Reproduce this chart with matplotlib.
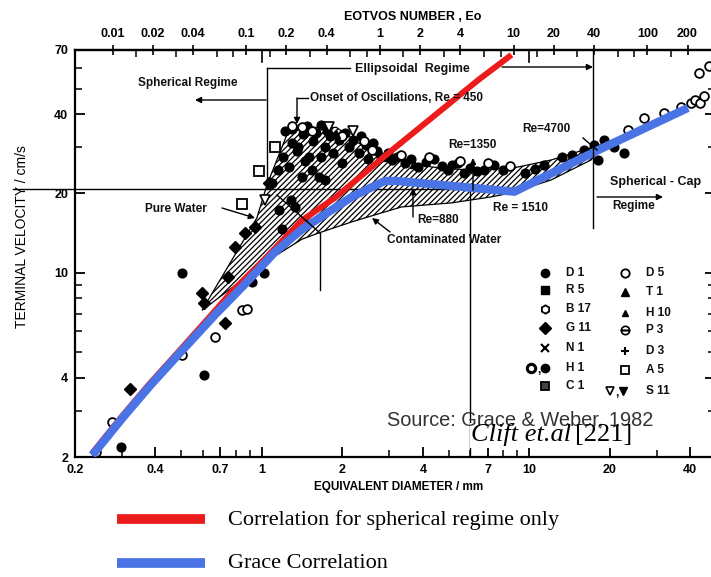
import numpy as np
import matplotlib
matplotlib.use("Agg")
import matplotlib.pyplot as plt
from matplotlib.lines import Line2D
from matplotlib.patches import FancyArrowPatch, Rectangle
from matplotlib.ticker import FixedLocator, FixedFormatter, NullFormatter

W, H = 711, 577
SANS = ["Liberation Sans", "DejaVu Sans"]
SERIF = ["Liberation Serif", "DejaVu Serif"]
plt.rcParams["font.family"] = SANS
plt.rcParams["hatch.linewidth"] = 0.9

# ---- axis ticks -------------------------------------------------------------
d_ticks = [0.2, 0.4, 0.7, 1, 2, 4, 7, 10, 20, 40]
d_tick_labels = ["0.2", "0.4", "0.7", "1", "2", "4", "7", "10", "20", "40"]
d_minor = [0.3, 0.5, 0.6, 0.8, 0.9, 3, 5, 6, 8, 9, 30]
v_ticks = [2, 4, 10, 20, 40, 70]
v_tick_labels = ["2", "4", "10", "20", "40", "70"]
v_minor = [3, 5, 6, 7, 8, 9, 30, 50, 60]
eo_ticks = [0.01, 0.02, 0.04, 0.1, 0.2, 0.4, 1, 2, 4, 10, 20, 40, 100, 200]
eo_tick_labels = ["0.01", "0.02", "0.04", "0.1", "0.2", "0.4", "1", "2", "4",
                  "10", "20", "40", "100", "200"]
eo_minor = [0.015, 0.03, 0.06, 0.08, 0.15, 0.3, 0.6, 0.8, 1.5, 3, 6, 8,
            15, 30, 60, 80, 150]
EO_PER_MM2 = 0.131          # Eo = g*drho*d^2/sigma for air bubbles in water, d in mm

# ---- band between pure and contaminated water ------------------------------
pure_d = [0.597, 0.958, 1.044, 1.24, 1.41, 1.9, 2.42, 3.25, 4.31, 5.72, 6.79, 9.1, 12.1, 17.0, 19.0]
pure_v = [7.2, 16.15, 21.5, 33.4, 35.6, 35.6, 30.0, 26.8, 25.2, 24.6, 24.6, 25.2, 26.8, 29.8, 30.8]
cont_d = [0.597, 1.062, 1.41, 1.632, 2.167, 2.64, 3.33, 5.12, 7.21, 8.57, 12.08, 17.03, 19.0]
cont_v = [7.2, 11.19, 13.4, 14.16, 15.59, 16.57, 17.77, 18.41, 19.4, 20.09, 22.5, 26.8, 30.8]

# ---- correlations -----------------------------------------------------------
spherical_d = [0.232, 0.30, 0.379, 0.474, 0.67, 0.773, 1.0, 1.41, 1.87, 2.98, 6.45, 8.58]
spherical_v = [2.07, 2.86, 3.78, 4.86, 7.2, 8.5, 11.0, 15.8, 19.2, 28.5, 53.9, 67.1]
grace_d = [0.232, 0.30, 0.379, 0.474, 0.67, 0.85, 1.12, 1.41, 2.17, 2.88, 3.2, 8.8, 18.1, 39.2]
grace_v = [2.03, 2.80, 3.70, 4.75, 6.95, 8.9, 12.0, 14.6, 19.4, 22.3, 22.3, 20.3, 29.2, 42.2]

# ---- experimental points ----------------------------------------------------
d1_d = [1.09, 1.15, 1.2, 1.22, 1.26, 1.3, 1.35, 1.37, 1.42, 1.45, 1.5, 1.55, 1.6, 1.63,
        1.67, 1.72, 1.8, 1.85, 1.94, 2.0, 2.11, 2.2, 2.3, 2.45, 2.5, 2.7, 2.8, 2.95,
        3.06, 3.2, 3.42, 3.6, 3.85, 4.1, 4.42, 4.7, 4.98, 5.12, 5.4, 5.72, 6.0, 6.4,
        6.8, 7.4, 8.0, 9.6, 10.5, 11.4, 13.2, 14.5, 16.0, 17.5, 18.1, 19.0, 20.8, 22.6,
        0.503, 0.608, 0.298, 1.017, 0.918, 1.19, 1.29, 1.33, 1.16, 1.41, 1.54, 1.67, 1.72,
        1.3, 1.48, 1.75, 2.05, 2.35, 2.6]
d1_v = [21.9, 24.5, 27.5, 34.5, 25.2, 31.0, 29.0, 30.0, 33.5, 26.5, 27.4, 31.5, 34.0, 23.1,
        36.5, 30.0, 33.0, 28.5, 31.9, 26.0, 30.0, 32.0, 28.5, 30.5, 27.0, 29.0, 27.4, 28.5,
        26.8, 27.5, 26.1, 27.0, 25.2, 26.2, 27.0, 25.5, 24.6, 25.6, 26.0, 24.0, 25.0, 24.3,
        24.6, 25.6, 24.5, 24.0, 24.8, 25.6, 27.4, 28.0, 29.2, 30.5, 26.8, 32.0, 30.0, 28.5,
        10.0, 4.1, 2.18, 10.0, 9.2, 14.6, 18.9, 17.8, 17.3, 23.0, 24.5, 27.4, 22.5,
        35.0, 36.0, 34.5, 34.0, 33.0, 31.0]
d5_d = [1.41, 1.536, 2.57, 1.30, 2.0, 2.4, 3.3, 4.2, 5.5, 7.0, 8.5, 23.4, 26.9, 31.8,
        36.8, 40.2, 41.5, 43.5, 43.1, 47.0, 45.0, 0.276, 0.239, 0.667, 0.503, 0.842, 0.88]
d5_v = [35.6, 34.5, 29.2, 36.0, 33.0, 31.5, 28.0, 27.5, 26.5, 26.0, 25.5, 34.8, 38.7, 40.4,
        42.6, 44.2, 45.2, 44.0, 57.3, 61.0, 47.0, 2.72, 2.09, 5.7, 4.88, 7.2, 7.3]
a5_d = [1.118, 0.975, 0.842]
a5_v = [30.0, 24.3, 18.25]
s11_d = [1.026, 1.78, 2.2]
s11_v = [18.9, 35.6, 34.5]
g11_d = [1.062, 0.942, 0.864, 0.793, 0.597, 0.608, 0.728, 0.322, 0.75]
g11_v = [21.9, 14.9, 14.16, 12.5, 8.39, 7.65, 6.45, 3.63, 9.6]
t1_d = [2.95, 1.9, 3.7]
t1_v = [27.5, 33.5, 25.8]

# reference crossing drawn on the diagram
mark_v = 20.8
mark_d = 6.0

RED = "#ec1c1c"
BLUE = "#4a73e6"


def fp(px, py):
    """pixel position -> figure fraction"""
    return (px / W, 1 - py / H)


fig = plt.figure(figsize=(W / 100, H / 100), dpi=100)
ax = fig.add_axes([75 / W, 1 - 457 / H, (715 - 75) / W, 407 / H])
ax.set_xscale("log")
ax.set_yscale("log")
ax.set_xlim(0.2, 49.5)
ax.set_ylim(2, 70)

for s in ax.spines.values():
    s.set_linewidth(1.6)

ax.xaxis.set_major_locator(FixedLocator(d_ticks))
ax.xaxis.set_major_formatter(FixedFormatter(d_tick_labels))
ax.xaxis.set_minor_locator(FixedLocator(d_minor))
ax.xaxis.set_minor_formatter(NullFormatter())
ax.yaxis.set_major_locator(FixedLocator(v_ticks))
ax.yaxis.set_major_formatter(FixedFormatter(v_tick_labels))
ax.yaxis.set_minor_locator(FixedLocator(v_minor))
ax.yaxis.set_minor_formatter(NullFormatter())
ax.tick_params(which="major", direction="in", length=7, width=1.3, top=False,
               right=True, labelsize=9, pad=5)
ax.tick_params(which="minor", direction="in", length=5, width=1.1, top=False, right=True)
for lab in ax.get_xticklabels() + ax.get_yticklabels():
    lab.set_fontweight("bold")

# Eotvos number scale on top
sec = ax.secondary_xaxis("top", functions=(lambda d: EO_PER_MM2 * np.asarray(d) ** 2,
                                           lambda e: np.sqrt(np.asarray(e) / EO_PER_MM2)))
sec.xaxis.set_major_locator(FixedLocator(eo_ticks))
sec.xaxis.set_major_formatter(FixedFormatter(eo_tick_labels))
sec.xaxis.set_minor_locator(FixedLocator(eo_minor))
sec.xaxis.set_minor_formatter(NullFormatter())
sec.tick_params(which="major", direction="inout", length=7, width=1.2, labelsize=9, pad=4)
sec.tick_params(which="minor", direction="in", length=5, width=1.1)
for lab in sec.get_xticklabels():
    lab.set_fontweight("bold")
sec.spines["top"].set_linewidth(1.6)

# decade marks of the diameter scale hanging from the top border
for dd in (1, 10):
    ax.plot([dd, dd], [1.0, 0.97], transform=ax.get_xaxis_transform(),
            color="black", lw=1.2, clip_on=False)

# hatched band
band_x = pure_d + cont_d[::-1]
band_y = pure_v + cont_v[::-1]
ax.fill(band_x, band_y, facecolor="white", edgecolor="black", hatch="//////",
        lw=0.9, zorder=2)

# data points
mk = dict(linestyle="none", zorder=3)
ax.plot(d1_d, d1_v, marker="o", ms=6.3, color="black", **mk)
ax.plot(d5_d, d5_v, marker="o", ms=6.3, mfc="white", mec="black", mew=1.3, **mk)
ax.plot(a5_d, a5_v, marker="s", ms=6.5, mfc="white", mec="black", mew=1.3, **mk)
ax.plot(s11_d, s11_v, marker="v", ms=6.5, mfc="white", mec="black", mew=1.2, **mk)
ax.plot(g11_d, g11_v, marker="D", ms=6, color="black", **mk)
ax.plot(t1_d, t1_v, marker="^", ms=6, color="black", **mk)

# reference crossing lines
ax.plot([0.117, 6.7], [mark_v, mark_v], color="black", lw=1.0, clip_on=False, zorder=4)
ax.plot([mark_d, mark_d], [2, 21.7], color="black", lw=1.0, zorder=4)

# correlations
ax.plot(spherical_d, spherical_v, color=RED, lw=4.3, solid_capstyle="butt",
        solid_joinstyle="round", zorder=5)
ax.plot(grace_d, grace_v, color=BLUE, lw=6.0, solid_capstyle="butt",
        solid_joinstyle="round", zorder=6)


# ---- annotations ------------------------------------------------------------
def seg(p0, p1, lw=1.0):
    fig.add_artist(Line2D([p0[0] / W, p1[0] / W], [1 - p0[1] / H, 1 - p1[1] / H],
                          color="black", lw=lw))


def arrow(p0, p1, lw=1.0):
    fig.add_artist(FancyArrowPatch(fp(*p0), fp(*p1), transform=fig.transFigure,
                                   arrowstyle="-|>", mutation_scale=9, lw=lw,
                                   color="black", shrinkA=0, shrinkB=0))


def label(px, py, s, size=8.5, **kw):
    return fig.text(*fp(px, py), s, ha="left", va="center", fontsize=size,
                    fontweight="bold", color="#111111", **kw)


seg((267, 68), (267, 186))
seg((267, 68), (350, 68))
arrow((502, 67), (593, 67))
seg((593, 50), (593, 228))
arrow((266, 100), (195, 100))
seg((297, 98), (308, 98))
arrow((297, 98), (297, 124))
arrow((473, 190), (473, 158))
seg((583, 138), (597, 150))
arrow((413, 217), (413, 188))
arrow((390, 232), (372, 218))
arrow((222, 208), (255, 218))
seg((277, 195), (320, 233))
seg((320, 233), (320, 290))
arrow((597, 197), (663, 197))

label(138, 83, "Spherical Regime")
label(355, 69, "Ellipsoidal  Regime", size=9)
label(310, 98, "Onset of Oscillations, Re = 450")
label(448, 145, "Re=1350")
label(522, 129, "Re=4700")
label(417, 220, "Re=880")
label(493, 208, "Re = 1510")
label(387, 240, "Contaminated Water")
label(145, 209, "Pure Water")
label(610, 182, "Spherical - Cap", size=9)
label(612, 206, "Regime")

# axis titles
fig.text(*fp(413, 17), "EOTVOS NUMBER , Eo", ha="center", va="center",
         fontsize=9, fontweight="bold")
fig.text(*fp(399, 487), "EQUIVALENT DIAMETER / mm", ha="center", va="center",
         fontsize=8.5, fontweight="bold")
fig.text(*fp(22, 237), "TERMINAL VELOCITY / cm/s", ha="center", va="center",
         rotation=90, fontsize=10)

# symbol key
key_left = [("D 1", dict(marker="o", color="black")),
            ("R 5", dict(marker="s", color="black")),
            ("B 17", dict(marker="h", mfc="white", mec="black", mew=1.3)),
            ("G 11", dict(marker="D", color="black")),
            ("N 1", dict(marker="x", color="black", mew=1.5)),
            ("H 1", None),
            ("C 1", dict(marker="s", mfc="#444444", mec="black", mew=1.3))]
key_left_y = [273, 290, 309, 328, 348, 368, 386]
key_right = [("D 5", dict(marker="o", mfc="white", mec="black", mew=1.3)),
             ("T 1", dict(marker="^", color="black")),
             ("H 10", dict(marker="^", color="black", ms=5)),
             ("P 3", dict(marker="o", fillstyle="top", mfc="white", mec="black", mew=1.2)),
             ("D 3", dict(marker="+", color="black", mew=1.5)),
             ("A 5", dict(marker="s", mfc="white", mec="black", mew=1.3)),
             ("S 11", None)]
key_right_y = [273, 292, 313, 330, 351, 370, 391]


def key_mark(px, py, spec):
    style = dict(ms=6, linestyle="none")
    style.update(spec)
    fig.add_artist(Line2D([px / W], [1 - py / H], **style))


for (name, spec), yy in zip(key_left, key_left_y):
    if spec is None:
        key_mark(531, yy, dict(marker="o", mfc="white", mec="black", mew=2.2, ms=6))
        label(537, yy + 2, ",", size=8.5)
        key_mark(545, yy, dict(marker="o", color="black"))
    else:
        key_mark(545, yy, spec)
    label(566, yy, name)
for (name, spec), yy in zip(key_right, key_right_y):
    if spec is None:
        key_mark(610, yy, dict(marker="v", mfc="white", mec="black", mew=1.2))
        label(615, yy + 2, ",", size=8.5)
        key_mark(623, yy, dict(marker="v", color="black"))
    else:
        key_mark(625, yy, spec)
    label(646, yy, name)

# source
fig.text(*fp(387, 420), "Source: Grace & Weber, 1982", ha="left", va="center",
         fontsize=14.4, color="#333333")
fig.add_artist(Rectangle(fp(470, 448), 172 / W, 25 / H, transform=fig.transFigure,
                         facecolor="white", edgecolor="none"))
cite = fig.text(*fp(471, 435), "Clift et.al", ha="left", va="center", fontsize=19,
                family=SERIF, style="italic")
renderer = fig.canvas.get_renderer()
cite_end = cite.get_window_extent(renderer).x1
fig.text(cite_end / W + 4 / W, 1 - 435 / H, "[221]", ha="left", va="center",
         fontsize=19, family=SERIF)

# bottom key for the correlations
fig.add_artist(Line2D([117 / W, 205 / W], [1 - 519 / H] * 2, color=RED, lw=7,
                      solid_capstyle="butt"))
fig.add_artist(Line2D([117 / W, 205 / W], [1 - 563 / H] * 2, color=BLUE, lw=7,
                      solid_capstyle="butt"))
fig.text(*fp(228, 520), "Correlation for spherical regime only", ha="left",
         va="center", fontsize=16, family=SERIF)
fig.text(*fp(228, 563), "Grace Correlation", ha="left", va="center",
         fontsize=16, family=SERIF)

fig.savefig("out.png", dpi=100)
